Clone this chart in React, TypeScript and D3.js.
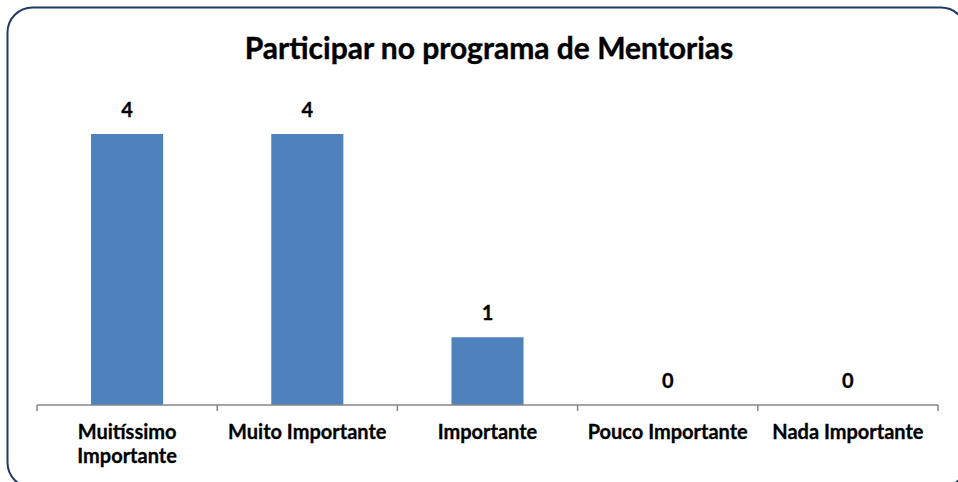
import React, { useEffect, useRef } from "react";
import * as d3 from "d3";

const title = "Participar no programa de Mentorias";
const categories = ["Muitíssimo Importante", "Muito Importante", "Importante", "Pouco Importante", "Nada Importante"];
const categoryLines = [["Muitíssimo", "Importante"], ["Muito Importante"], ["Importante"], ["Pouco Importante"], ["Nada Importante"]];
const values = [4, 4, 1, 0, 0];

const W = 958;
const H = 482;
const FONT = "Lato, 'Noto Sans', sans-serif";

export default function App() {
  const ref = useRef<SVGSVGElement>(null);

  useEffect(() => {
    const svg = d3.select(ref.current);
    svg.selectAll("*").remove();

    svg.append("rect").attr("width", W).attr("height", H).attr("fill", "#fff");
    svg.append("rect")
      .attr("x", 7.5).attr("y", 7.5).attr("width", 958.5).attr("height", 480)
      .attr("rx", 25).attr("ry", 25)
      .attr("fill", "#fff").attr("stroke", "#1F3B63").attr("stroke-width", 2);

    const x = d3.scaleBand<string>().domain(categories).range([37, 938]).paddingInner(0.6).paddingOuter(0.3);
    const band = d3.scaleBand<string>().domain(categories).range([37, 938]);
    const y = d3.scaleLinear().domain([0, 4]).range([405, 134]);

    svg.append("text").attr("x", 489).attr("y", 59).attr("text-anchor", "middle")
      .attr("font-family", FONT).attr("font-weight", 700).attr("font-size", 30)
      .attr("stroke", "#000").attr("stroke-width", 0.4)
      .attr("fill", "#000").text(title);

    svg.append("g").selectAll("rect").data(values).join("rect")
      .attr("x", (_, i) => x(categories[i])!)
      .attr("width", x.bandwidth())
      .attr("y", (d) => y(d))
      .attr("height", (d) => 405 - y(d))
      .attr("fill", "#4F81BD");

    // axis
    const ax = svg.append("g").attr("stroke", "#868686").attr("stroke-width", 1.5);
    ax.append("line").attr("x1", 37).attr("x2", 938).attr("y1", 405).attr("y2", 405);
    const ticks = categories.map((c) => band(c)!).concat([938]);
    ax.selectAll("line.t").data(ticks).join("line").attr("class", "t")
      .attr("x1", (d) => d).attr("x2", (d) => d).attr("y1", 405).attr("y2", 411);

    svg.append("g").selectAll("text").data(values).join("text")
      .attr("x", (_, i) => x(categories[i])! + x.bandwidth() / 2)
      .attr("y", (d) => y(d) - 17)
      .attr("text-anchor", "middle")
      .attr("font-family", FONT).attr("font-weight", 700).attr("font-size", 20)
      .attr("stroke", "#000").attr("stroke-width", 0.3)
      .attr("fill", "#000").text((d) => String(d));

    const lab = svg.append("g");
    categoryLines.forEach((lines, i) => {
      const cx = band(categories[i])! + band.bandwidth() / 2;
      const t = lab.append("text").attr("text-anchor", "middle")
        .attr("font-family", FONT).attr("font-weight", 700).attr("font-size", 20)
        .attr("stroke", "#000").attr("stroke-width", 0.3).attr("fill", "#000");
      lines.forEach((l, j) => {
        t.append("tspan").attr("x", cx).attr("y", 439 + j * 24).text(l);
      });
    });
  }, []);

  return (
    <div style={{ position: "absolute", left: 0, top: 0 }}>
      <svg ref={ref} width={W} height={H} style={{ display: "block" }} />
    </div>
  );
}
